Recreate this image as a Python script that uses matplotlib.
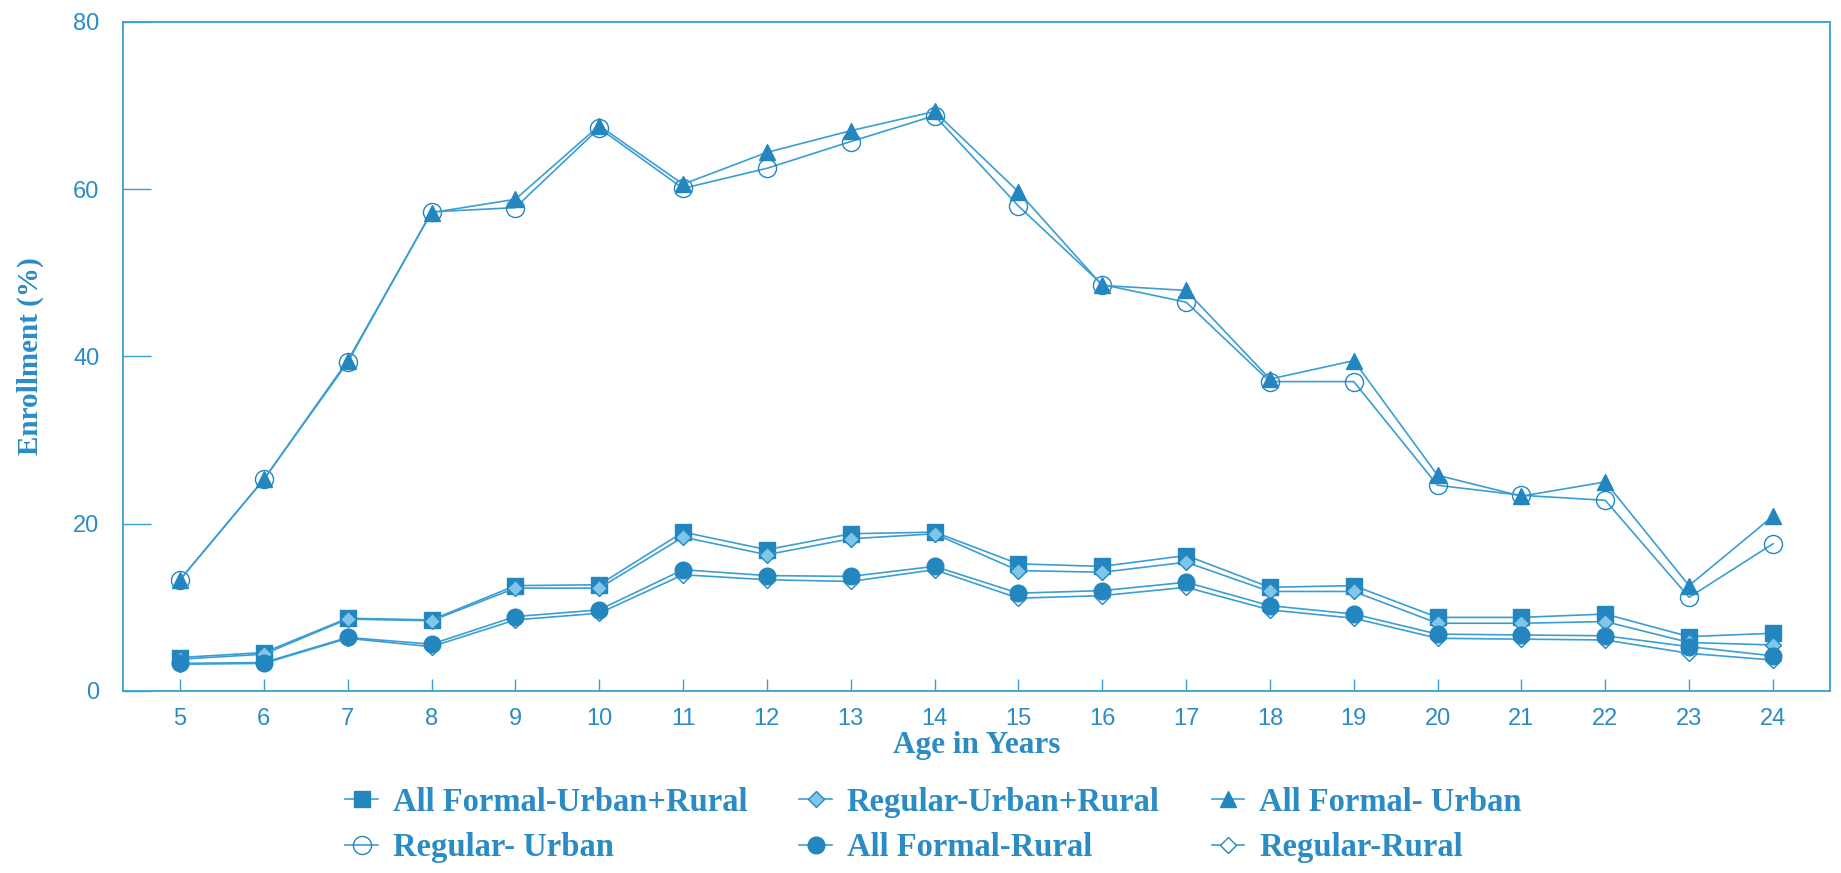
import matplotlib
matplotlib.use("Agg")
import matplotlib.pyplot as plt

ages = list(range(5, 25))
all_formal_ur = [4.0, 4.6, 8.7, 8.5, 12.6, 12.7, 19.0, 16.9, 18.8, 19.0,
                 15.2, 14.9, 16.2, 12.4, 12.6, 8.8, 8.8, 9.2, 6.5, 6.9]
regular_ur = [3.8, 4.4, 8.6, 8.4, 12.3, 12.3, 18.4, 16.3, 18.2, 18.8,
              14.4, 14.2, 15.4, 11.9, 11.9, 8.1, 8.1, 8.3, 5.8, 5.5]
all_formal_urban = [13.3, 25.3, 39.5, 57.2, 58.8, 67.6, 60.6, 64.4, 67.0, 69.3,
                    59.7, 48.5, 47.9, 37.3, 39.5, 25.8, 23.3, 25.0, 12.6, 20.9]
regular_urban = [13.3, 25.3, 39.3, 57.3, 57.8, 67.3, 60.1, 62.5, 65.7, 68.8,
                 58.0, 48.6, 46.5, 37.0, 37.0, 24.6, 23.4, 22.8, 11.2, 17.6]
all_formal_rural = [3.3, 3.4, 6.4, 5.6, 8.9, 9.7, 14.5, 13.8, 13.7, 14.9,
                    11.7, 12.0, 13.0, 10.2, 9.2, 6.8, 6.7, 6.6, 5.3, 4.2]
regular_rural = [3.2, 3.3, 6.3, 5.3, 8.5, 9.3, 13.9, 13.3, 13.1, 14.5,
                 11.1, 11.4, 12.4, 9.7, 8.7, 6.3, 6.2, 6.1, 4.5, 3.7]
y_ticks = [0, 20, 40, 60, 80]

TXT = "#2b8cc4"
LINE = "#3a9ed2"
MK = "#2486bf"
LIGHT = "#80c6ea"

fig = plt.figure(figsize=(18.41, 8.73), dpi=100)
ax = fig.add_axes([0.0668, 0.2085, 0.9272, 0.7663])

lw = 1.2
h_sq, = ax.plot(ages, all_formal_ur, color=LINE, lw=lw, marker='s', ms=11,
                mfc=MK, mec=MK, label='All Formal-Urban+Rural', zorder=3)
h_dl, = ax.plot(ages, regular_ur, color=LINE, lw=lw, marker='D', ms=8.5,
                mfc=LIGHT, mec=MK, mew=1.0, label='Regular-Urban+Rural', zorder=4)
h_oc, = ax.plot(ages, regular_urban, color=LINE, lw=lw, marker='o', ms=13,
                mfc='none', mec=MK, mew=1.0, label='Regular- Urban', zorder=3)
h_tr, = ax.plot(ages, all_formal_urban, color=LINE, lw=lw, marker='^', ms=12,
                mfc=MK, mec=MK, label='All Formal- Urban', zorder=4)
h_od, = ax.plot(ages, regular_rural, color=LINE, lw=lw, marker='D', ms=8.5,
                mfc='white', mec=MK, mew=1.0, label='Regular-Rural', zorder=3)
h_fc, = ax.plot(ages, all_formal_rural, color=LINE, lw=lw, marker='o', ms=12,
                mfc=MK, mec=MK, label='All Formal-Rural', zorder=4)

ax.set_xlim(4.32, 24.68)
ax.set_ylim(0, 80)
ax.set_xticks(ages)
ax.set_yticks(y_ticks)
for s in ax.spines.values():
    s.set_color(LINE)
    s.set_linewidth(1.3)
ax.tick_params(axis='both', direction='in', width=1.0, color=LINE,
               labelcolor=TXT, labelsize=17)
ax.tick_params(axis='y', pad=17, length=20)
ax.tick_params(axis='x', pad=12, length=9)
for lab in ax.get_xticklabels() + ax.get_yticklabels():
    lab.set_family('Liberation Sans')

ax.set_xlabel('Age in Years', family='Liberation Serif', weight='bold',
              fontsize=22.5, color=TXT, labelpad=1)
ax.set_ylabel('Enrollment (%)', family='Liberation Serif', weight='bold',
              fontsize=21, color=TXT, labelpad=21)

handles = [h_sq, h_oc, h_dl, h_fc, h_tr, h_od]
leg = fig.legend(handles=handles, labels=[h.get_label() for h in handles],
                 ncol=3, loc='center', bbox_to_anchor=(0.507, 0.055),
                 frameon=False, handlelength=1.0, numpoints=1,
                 columnspacing=1.6, handletextpad=0.45, labelspacing=0.45,
                 prop={'family': 'Liberation Serif', 'weight': 'bold', 'size': 23.5})
for t in leg.get_texts():
    t.set_color(TXT)

fig.savefig('out.png', dpi=100)
